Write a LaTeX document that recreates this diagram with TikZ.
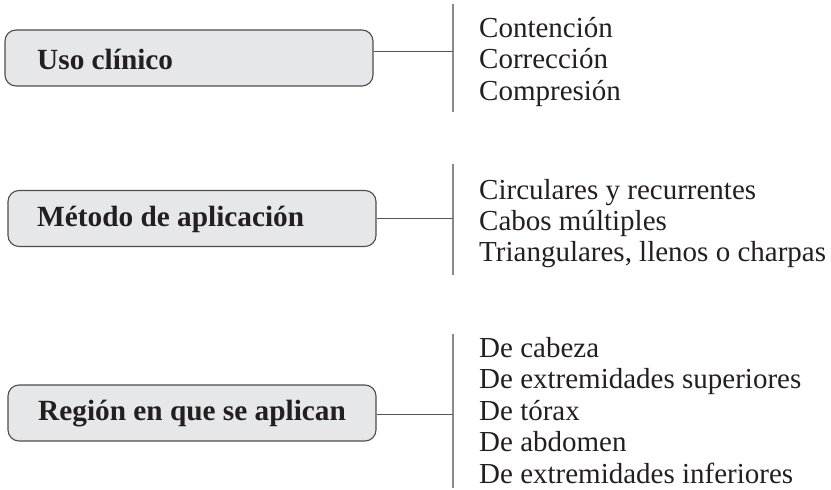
\documentclass[tikz,border=0pt]{standalone}
\usepackage{fontspec}
\setmainfont{Liberation Serif}
\definecolor{boxfill}{HTML}{E6E7E8}
\definecolor{boxline}{HTML}{4D4D4D}
\definecolor{conn}{HTML}{555555}
\definecolor{vbar}{HTML}{8A8A8A}
\definecolor{ink}{HTML}{231F20}
\begin{document}
\begin{tikzpicture}[x=1pt,y=-1pt,
  catbox/.style={draw=boxline, line width=1.1pt, fill=boxfill, rounded corners=11pt, minimum height=56pt, minimum width=368pt, inner sep=0pt},
  cattext/.style={anchor=west, inner sep=0pt, text=ink, font=\fontsize{29.3}{31}\selectfont\bfseries},
  item/.style={anchor=base west, inner sep=0pt, text=ink, font=\fontsize{29}{31}\selectfont},
  link/.style={draw=conn, line width=1pt},
  bar/.style={draw=vbar, line width=1.3pt}]
\useasboundingbox (0,0) rectangle (831,490);
% boxes
\node[catbox] (b1) at (189,58) {};
\node[catbox] (b2) at (192,218.5) {};
\node[catbox] (b3) at (192,413) {};
\node[cattext] (t1) at (37,59) {Uso clínico};
\node[cattext] (t2) at (37,219.5) {Método de aplicación};
\node[cattext] (t3) at (38,414) {Región en que se aplican};
% bars
\coordinate (v1a) at (453,4);   \coordinate (v1b) at (453,112);
\coordinate (v2a) at (453,164); \coordinate (v2b) at (453,275);
\coordinate (v3a) at (453,334); \coordinate (v3b) at (453,488);
\draw[bar] (v1a) -- (v1b);
\draw[bar] (v2a) -- (v2b);
\draw[bar] (v3a) -- (v3b);
\coordinate (j1) at (453,51);
\coordinate (j2) at (453,218);
\coordinate (j3) at (453,414);
\draw[link] (b1.east |- j1) -- (j1);
\draw[link] (b2.east |- j2) -- (j2);
\draw[link] (b3.east |- j3) -- (j3);
% items
\node[item] (a1) at (479,37) {Contención};
\node[item] (a2) at (479,68.5) {Corrección};
\node[item] (a3) at (479,100) {Compresión};
\node[item] (m1) at (479,199) {Circulares y recurrentes};
\node[item] (m2) at (479,230) {Cabos múltiples};
\node[item] (m3) at (479,261) {Triangulares, llenos o charpas};
\node[item] (r1) at (479,357) {De cabeza};
\node[item] (r2) at (479,388.5) {De extremidades superiores};
\node[item] (r3) at (479,420) {De tórax};
\node[item] (r4) at (479,451.5) {De abdomen};
\node[item] (r5) at (479,483) {De extremidades inferiores};
\end{tikzpicture}
\end{document}
